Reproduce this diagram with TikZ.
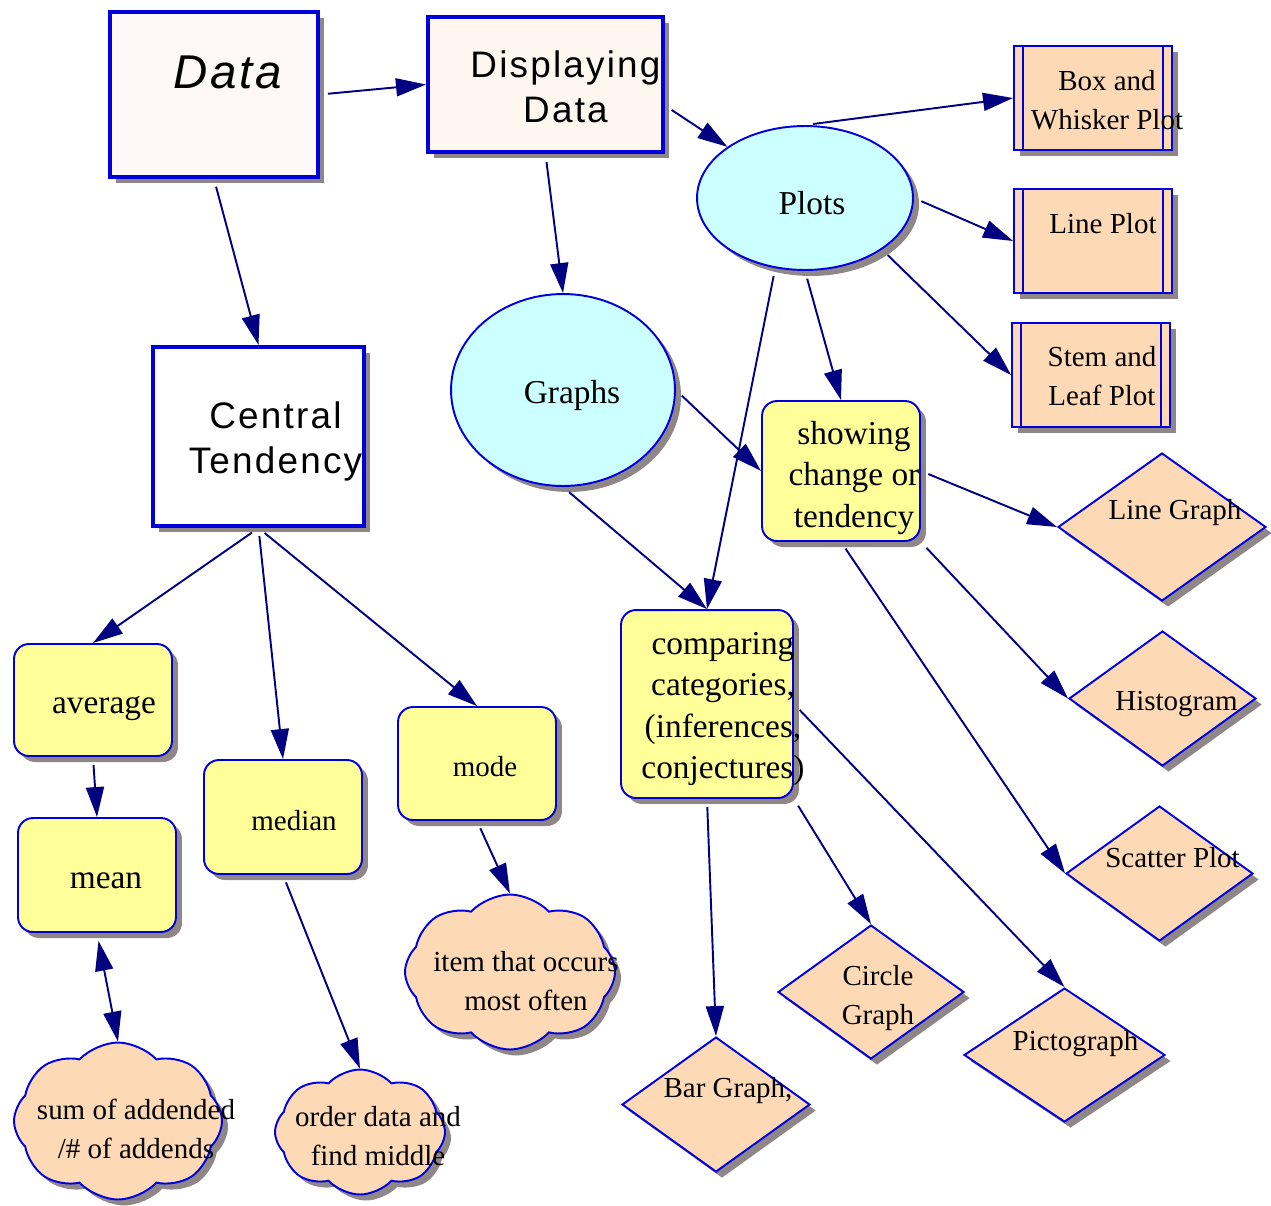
\documentclass[tikz,border=0pt]{standalone}
\usepackage{fontspec}
\setmainfont{Liberation Serif}
\newfontfamily\boxfont[LetterSpace=6]{Liberation Sans}
\usetikzlibrary{shapes.geometric,shapes.symbols,shadows,arrows.meta}

\definecolor{boxblue}{RGB}{0,0,220}
\definecolor{linknavy}{RGB}{0,0,128}
\definecolor{peach}{RGB}{253,217,181}
\definecolor{lemon}{RGB}{255,255,153}
\definecolor{skyfill}{RGB}{204,255,255}
\definecolor{shadowgray}{RGB}{143,135,135}
\definecolor{pinkfill}{RGB}{255,248,248}
\definecolor{creamfill}{RGB}{253,247,240}

\tikzset{
  dropsh/.style={drop shadow={shadow xshift=0.12cm, shadow yshift=-0.12cm, fill=shadowgray, opacity=1}},
  bigbox/.style={rectangle, draw=boxblue, line width=2.3pt, dropsh, inner sep=0pt},
  plotbox/.style={rectangle, draw=boxblue, line width=1.1pt, fill=peach, dropsh, inner sep=0pt,
    minimum width=3.16cm, minimum height=2.08cm,
    path picture={\draw[boxblue, line width=1.1pt]
      ([xshift=0.18cm]path picture bounding box.north west) -- ([xshift=0.18cm]path picture bounding box.south west)
      ([xshift=-0.18cm]path picture bounding box.north east) -- ([xshift=-0.18cm]path picture bounding box.south east);}},
  roundbox/.style={rectangle, rounded corners=0.3cm, draw=boxblue, line width=1.1pt, fill=lemon, dropsh, inner sep=0pt},
  oval/.style={ellipse, draw=boxblue, line width=1.1pt, fill=skyfill, dropsh, inner sep=0pt},
  diam/.style={diamond, draw=boxblue, line width=1.1pt, fill=peach, dropsh, inner sep=0pt},
  puff/.style={cloud, cloud puffs=8, cloud puff arc=95, shape border rotate=22.5, draw=boxblue, line width=1.1pt, fill=peach, dropsh, inner sep=0pt},
  sanslbl/.style={font=\boxfont\fontsize{21}{25.6}\selectfont, align=center},
  datalbl/.style={font=\boxfont\itshape\fontsize{27}{32}\selectfont},
  biglbl/.style={font=\fontsize{19}{23.5}\selectfont, align=center},
  smalllbl/.style={font=\fontsize{16.5}{22}\selectfont, align=center},
  link/.style={draw=linknavy, line width=1.1pt, -{Triangle[length=0.6cm, width=0.36cm]}, shorten <=0.16cm},
  twolink/.style={link, {Triangle[length=0.6cm, width=0.36cm]}-{Triangle[length=0.6cm, width=0.36cm]}},
}

\begin{document}
\begin{tikzpicture}[x=0.02cm, y=-0.02cm]
\useasboundingbox (0,0) rectangle (1271,1205);

% main boxes
\node[bigbox, fill=pinkfill, minimum width=4.16cm, minimum height=3.30cm,
  label={[datalbl, shift={(14,-22)}]center:Data}] (data) at (214,94.5) {};
\node[bigbox, fill=creamfill, minimum width=4.70cm, minimum height=2.70cm,
  label={[sanslbl, shift={(20,2)}]center:Displaying\\Data}] (disp) at (545.5,84.5) {};
\node[bigbox, fill=white, minimum width=4.22cm, minimum height=3.58cm,
  label={[sanslbl, shift={(17,5)}]center:Central\\Tendency}] (central) at (258.5,436.5) {};

% plots and graphs
\node[oval, minimum width=4.32cm, minimum height=2.88cm,
  label={[biglbl, shift={(7,5)}]center:Plots}] (plots) at (805,198) {};
\node[oval, minimum width=4.48cm, minimum height=3.84cm,
  label={[biglbl, shift={(9,5)}]center:Graphs}] (graphs) at (563,390) {};

\node[plotbox, label={[smalllbl, shift={(14,2)}]center:Box and\\Whisker Plot}] (box) at (1093,98) {};
\node[plotbox, label={[smalllbl, shift={(10,-17)}]center:Line Plot}] (lplot) at (1093,241) {};
\node[plotbox, label={[smalllbl, shift={(11,1)}]center:Stem and\\Leaf Plot}] (stem) at (1091,375) {};

\node[roundbox, minimum width=3.16cm, minimum height=2.80cm,
  label={[biglbl, shift={(13,7)}]center:showing\\change or\\tendency}] (showing) at (841,471) {};
\node[roundbox, minimum width=3.44cm, minimum height=3.76cm,
  label={[biglbl, shift={(16,5)}]center:comparing\\categories,\\(inferences,\\conjectures)}] (comparing) at (707,704) {};

% graph kinds
\node[diam, minimum width=4.16cm, minimum height=2.96cm,
  label={[smalllbl, shift={(13,-14)}]center:Line Graph}] (lgraph) at (1162,527) {};
\node[diam, minimum width=3.74cm, minimum height=2.70cm,
  label={[smalllbl, shift={(14,6)}]center:Histogram}] (hist) at (1162.5,698.5) {};
\node[diam, minimum width=3.74cm, minimum height=2.70cm,
  label={[smalllbl, shift={(13,-16)}]center:Scatter Plot}] (scatter) at (1159.5,873.5) {};
\node[diam, minimum width=3.72cm, minimum height=2.68cm,
  label={[smalllbl, shift={(7,6)}]center:Circle\\Graph}] (circ) at (871,992) {};
\node[diam, minimum width=3.76cm, minimum height=2.70cm,
  label={[smalllbl, shift={(12,-14)}]center:Bar Graph,}] (bar) at (716,1104.5) {};
\node[diam, minimum width=4.02cm, minimum height=2.68cm,
  label={[smalllbl, shift={(11,-11)}]center:Pictograph}] (picto) at (1064.5,1055) {};

% central tendency
\node[roundbox, minimum width=3.16cm, minimum height=2.24cm,
  label={[biglbl, shift={(11,9)}]center:average}] (average) at (93,700) {};
\node[roundbox, minimum width=3.16cm, minimum height=2.28cm,
  label={[biglbl, shift={(9,6)}]center:mean}] (mean) at (97,875) {};
\node[roundbox, minimum width=3.16cm, minimum height=2.28cm,
  label={[smalllbl, shift={(11,4)}]center:median}] (median) at (283,817) {};
\node[roundbox, minimum width=3.16cm, minimum height=2.26cm,
  label={[smalllbl, shift={(8,3)}]center:mode}] (mode) at (477,763.5) {};

\node[puff, minimum width=4.16cm, minimum height=3.14cm,
  label={[smalllbl, shift={(18,8)}]center:sum of addended\\/\# of addends}] (sum) at (118,1121) {};
\node[puff, minimum width=3.40cm, minimum height=2.50cm,
  label={[smalllbl, shift={(18,4)}]center:order data and\\find middle}] (order) at (360,1132) {};
\node[puff, minimum width=4.20cm, minimum height=3.10cm,
  label={[smalllbl, shift={(16,9)}]center:item that occurs\\most often}] (item) at (510,972) {};

% links
\draw[link] (data.east) -- (disp.west);
\draw[link] (data.south) -- (central.north);
\draw[link] (disp.-10) -- (plots);
\draw[link] (disp.south) -- (graphs.north);
\draw[link] (plots.north) -- (box.west);
\draw[link] (plots.east) -- (lplot.west);
\draw[link] (plots.south east) -- (stem.west);
\draw[link] (plots.south) -- (showing.north);
\draw[link] (plots.247) -- (comparing.north);
\draw[link] (graphs.east) -- (showing.west);
\draw[link] (graphs.south) -- (comparing.north);
\draw[link] (showing.east) -- (lgraph.west);
\draw[link] (showing.south east) -- (hist.west);
\draw[link] (showing.south) -- (scatter.west);
\draw[link] (comparing.south) -- (bar.north);
\draw[link] (comparing.south east) -- (circ.north);
\draw[link] (comparing.east) -- (picto.north);
\draw[link] (central.south) -- (average.north);
\draw[link] (central.south) -- (median.north);
\draw[link] (central.south) -- (mode.north);
\draw[link] (average.south) -- (mean.north);
\draw[twolink] (mean.south) -- (sum.north);
\draw[link] (median.south) -- (order.north);
\draw[link] (mode.south) -- (item.north);

\end{tikzpicture}
\end{document}
